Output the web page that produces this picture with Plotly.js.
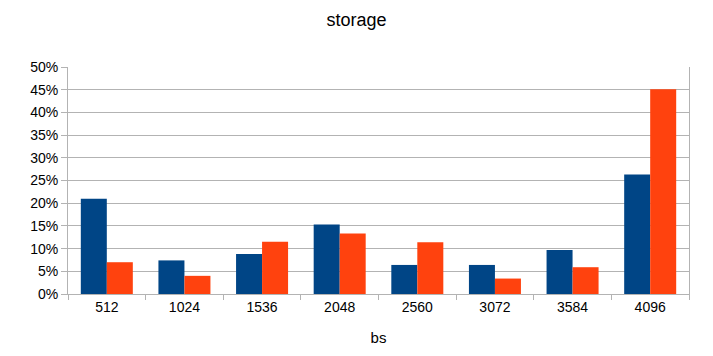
<!DOCTYPE html>
<html>
<head>
<meta charset="utf-8">
<script src="https://cdn.plot.ly/plotly-3.0.1.min.js"></script>
<style>html,body{margin:0;padding:0;background:#fff;}#chart{width:713px;height:356px;}</style>
</head>
<body>
<div id="chart"></div>
<script>
var categories = ["512", "1024", "1536", "2048", "2560", "3072", "3584", "4096"];
var seriesA = [0.210, 0.074, 0.088, 0.153, 0.064, 0.064, 0.097, 0.263];
var seriesB = [0.070, 0.040, 0.115, 0.133, 0.114, 0.034, 0.059, 0.451];
var yTickVals = [0, 0.05, 0.10, 0.15, 0.20, 0.25, 0.30, 0.35, 0.40, 0.45, 0.50];
var yTickText = ["0%", "5%", "10%", "15%", "20%", "25%", "30%", "35%", "40%", "45%", "50%"];

var font = "'Liberation Sans', Arial, sans-serif";
var data = [
  {type: "bar", x: categories, y: seriesA, marker: {color: "#004586"}, hoverinfo: "none"},
  {type: "bar", x: categories, y: seriesB, marker: {color: "#ff420e"}, hoverinfo: "none"}
];
var layout = {
  width: 713, height: 356,
  margin: {l: 68, r: 24, t: 67, b: 62},
  paper_bgcolor: "#ffffff", plot_bgcolor: "#ffffff",
  showlegend: false,
  barmode: "group", bargap: 0.33, bargroupgap: 0,
  font: {family: font, size: 14, color: "#000000"},
  title: {text: "storage", font: {family: font, size: 18, color: "#000"}, x: 0.5, xanchor: "center", y: 0.945, yanchor: "middle"},
  xaxis: {
    type: "category",
    title: {text: "bs", font: {family: font, size: 15}, standoff: 18},
    showline: true, linecolor: "#b3b3b3", linewidth: 1,
    ticks: "outside", tickson: "boundaries", ticklen: 5, tickcolor: "#b3b3b3",
    showgrid: false, tickfont: {family: font, size: 14}
  },
  yaxis: {
    range: [0, 0.5], tickvals: yTickVals, ticktext: yTickText,
    showgrid: true, gridcolor: "#b3b3b3", gridwidth: 1,
    showline: true, linecolor: "#b3b3b3", linewidth: 1, mirror: true,
    ticks: "outside", ticklen: 6, tickcolor: "#b3b3b3",
    zeroline: false, tickfont: {family: font, size: 14}
  }
};
Plotly.newPlot("chart", data, layout, {staticPlot: true, displayModeBar: false});
</script>
</body>
</html>
